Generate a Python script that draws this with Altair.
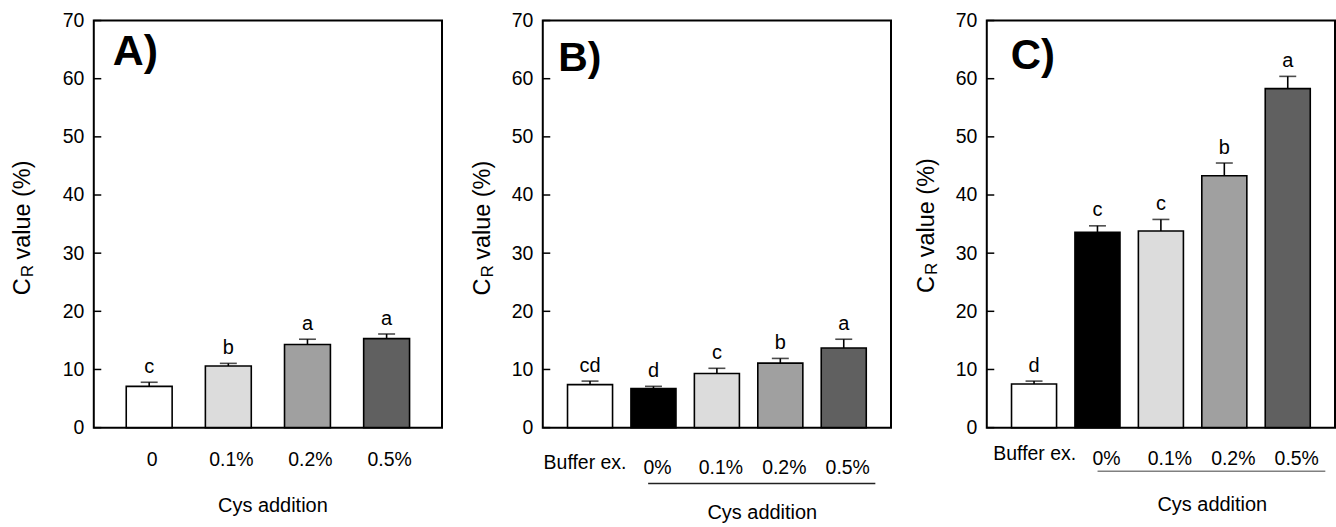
import altair as alt
import pandas as pd

FONT = "Liberation Sans"
W = 349
H = 408

# ---------------- data ----------------
y_ticks = [0, 10, 20, 30, 40, 50, 60, 70]

a_cats = ["0", "0.1%", "0.2%", "0.5%"]
a_means = [7.1, 10.6, 14.3, 15.3]
a_sd = [0.7, 0.45, 0.9, 0.8]
a_letters = ["c", "b", "a", "a"]
a_fills = ["#ffffff", "#dcdcdc", "#a0a0a0", "#606060"]

bc_cats = ["Buffer ex.", "0%", "0.1%", "0.2%", "0.5%"]
bc_fills = ["#ffffff", "#000000", "#dcdcdc", "#a0a0a0", "#606060"]

b_means = [7.4, 6.7, 9.3, 11.1, 13.7]
b_sd = [0.6, 0.4, 0.9, 0.8, 1.5]
b_letters = ["cd", "d", "c", "b", "a"]

c_means = [7.5, 33.6, 33.8, 43.3, 58.3]
c_sd = [0.5, 1.1, 2.0, 2.2, 2.1]
c_letters = ["d", "c", "c", "b", "a"]


def txt(text, x, y, size, bold=False, angle=0, align="left", color="black"):
    return alt.Chart(pd.DataFrame({"t": [text]})).mark_text(
        font=FONT, fontSize=size, fontWeight="bold" if bold else "normal",
        angle=angle, align=align, baseline="alphabetic", color=color,
    ).encode(x=alt.value(x), y=alt.value(y), text="t:N")


def panel(cats, means, sd, letters, fills, o):
    df = pd.DataFrame({
        "cat": cats,
        "mean": means,
        "top": [m + s for m, s in zip(means, sd)],
        "letter": letters,
        "fill": fills,
    })
    xs = alt.Scale(domain=cats, paddingInner=o["pi"], paddingOuter=o["po"])
    ys = alt.Scale(domain=[0, 70], nice=False)
    yax = alt.Axis(values=y_ticks, ticks=False, domain=False, grid=False,
                   labelFont=FONT, labelFontSize=19.5, labelColor="black",
                   labelPadding=10, title=None)
    x = alt.X("cat:N", scale=xs, axis=None)
    base = alt.Chart(df)

    bars = base.mark_bar(stroke="black", strokeWidth=1.6).encode(
        x=x,
        y=alt.Y("mean:Q", scale=ys, axis=yax),
        fill=alt.Fill("fill:N", scale=None),
    )
    stem = base.mark_rule(color="black", strokeWidth=1.6).encode(
        x=x, y=alt.Y("mean:Q", scale=ys, axis=yax), y2="top:Q")
    cap = base.mark_tick(color="black", thickness=1.6, size=17, orient="horizontal").encode(
        x=x, y=alt.Y("top:Q", scale=ys, axis=yax))
    lets = base.mark_text(font=FONT, fontSize=20, baseline="alphabetic", dy=-9.5,
                          color="black").encode(
        x=x, y=alt.Y("top:Q", scale=ys, axis=yax), text="letter:N")
    ticks = alt.Chart(pd.DataFrame({"t": y_ticks})).mark_rule(
        color="black", strokeWidth=1.5).encode(
        y=alt.Y("t:Q", scale=ys, axis=yax), x=alt.value(0), x2=alt.value(7.5))

    xl = base.transform_filter("datum.cat != 'Buffer ex.'").mark_text(
        font=FONT, fontSize=19.5, baseline="alphabetic", dx=o["dx"], color="black").encode(
        x=x, y=alt.value(H + o["lab"]), text="cat:N")
    layers = [bars, stem, cap, lets, ticks, xl]
    if "Buffer ex." in cats:
        xb = base.transform_filter("datum.cat == 'Buffer ex.'").mark_text(
            font=FONT, fontSize=19.5, baseline="alphabetic", dx=o["bdx"], color="black").encode(
            x=x, y=alt.value(H + o["blab"]), text="cat:N")
        line = alt.Chart(pd.DataFrame({"t": [0]})).mark_rule(
            color=o["lcol"], strokeWidth=1.3).encode(
            x=alt.value(o["lx"][0]), x2=alt.value(o["lx"][1]), y=alt.value(H + o["ly"]))
        layers += [xb, line]
    layers.append(txt("Cys addition", o["cx"], H + o["cy"], 20, align="center"))
    layers.append(txt(o["label"], o["px"], o["py"], o["ps"], bold=True))
    # y title  C_R value (%)
    tx, ty = o["tx"], o["ty"]
    layers.append(txt("C", tx, ty, 23.5, angle=270))
    layers.append(txt("R", tx + 3.1, ty - 18, 17, angle=270))
    layers.append(txt("value (%)", tx, ty - 35.8, 23.5, angle=270))
    # invisible extent guides (layout)
    layers.append(alt.Chart(pd.DataFrame({"t": [0]})).mark_rule(opacity=0).encode(
        x=alt.value(-o["el"]), x2=alt.value(W + o["er"]),
        y=alt.value(-o["et"]), y2=alt.value(0)))
    return alt.layer(*layers).properties(width=W, height=H)


pA = panel(a_cats, a_means, a_sd, a_letters, a_fills, dict(
    pi=0.42, po=0.41, dx=3, lab=38.7, cx=179.5, cy=84.1,
    label="A)", px=19, py=44.3, ps=43, tx=-63.7, ty=275.3,
    el=86, er=3, et=16))
pB = panel(bc_cats, b_means, b_sd, b_letters, bc_fills, dict(
    pi=0.29, po=0.39, dx=4, lab=46.6, bdx=-5, blab=41.6,
    lcol="#222222", lx=(105.6, 333.3), ly=56, cx=220, cy=91.6,
    label="B)", px=15.5, py=50.5, ps=41, tx=-52.7, ty=275.6,
    el=77.7, er=3, et=15))
pC = panel(bc_cats, c_means, c_sd, c_letters, bc_fills, dict(
    pi=0.29, po=0.39, dx=9, lab=37, bdx=0.7, blab=32,
    lcol="#808080", lx=(111, 339.3), ly=43.7, cx=226, cy=83.7,
    label="C)", px=24, py=48.7, ps=42, tx=-53.4, ty=273,
    el=73, er=0, et=12))

chart = alt.hconcat(pA, pB, pC, spacing=18).properties(
    padding={"left": 7, "top": 3, "right": 0, "bottom": 0}
).configure_view(stroke="black", strokeWidth=2)

chart.save("out.html", embed_options={"renderer": "svg", "actions": False})
